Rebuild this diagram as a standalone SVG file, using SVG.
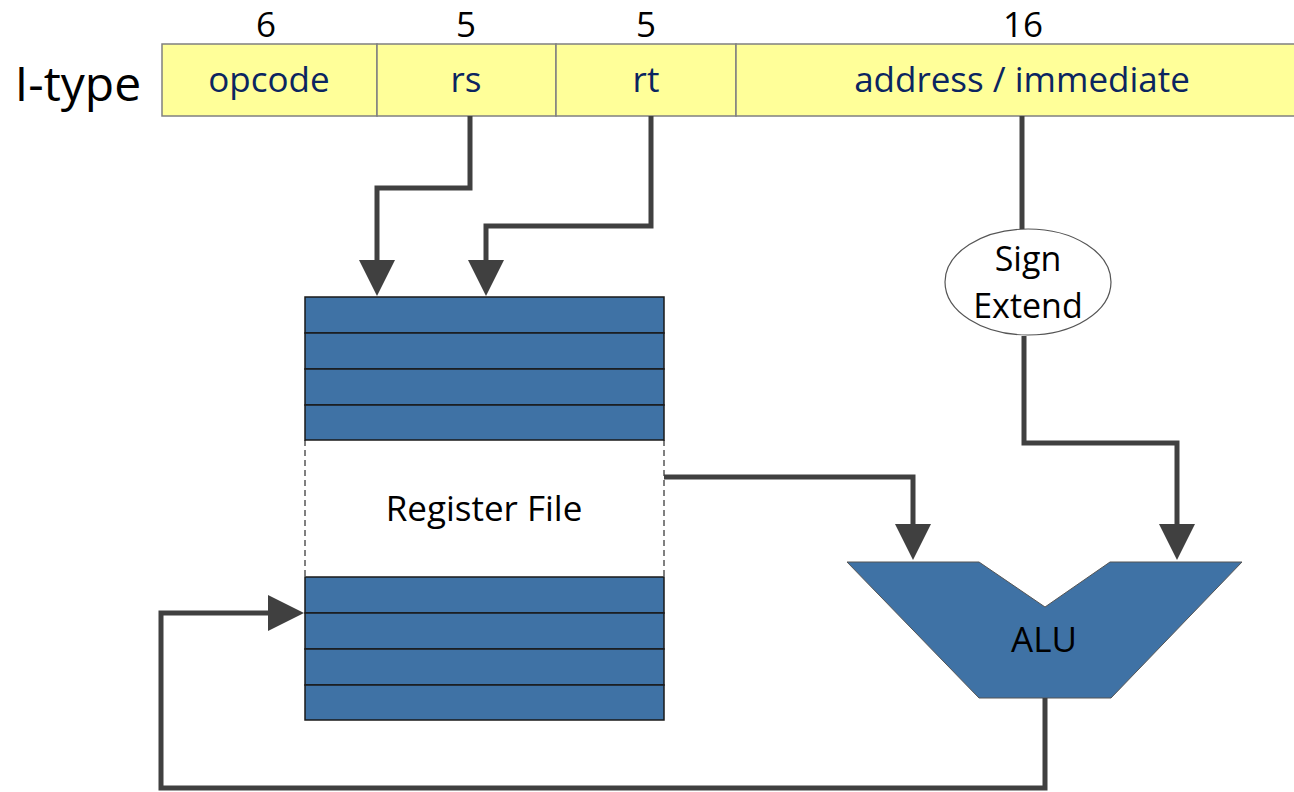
<svg xmlns="http://www.w3.org/2000/svg" width="1294" height="792" viewBox="0 0 1294 792">
<defs>
<style>
.lbl{font-family:"Open Sans","Liberation Sans",sans-serif;fill:#000;text-anchor:middle}
.fld{font-family:"Open Sans","Liberation Sans",sans-serif;fill:#0b2560;text-anchor:middle;font-size:35px}
.num{font-family:"Open Sans","Liberation Sans",sans-serif;fill:#000;text-anchor:middle;font-size:35px}
.cell{fill:#ffff99;stroke:#808080;stroke-width:1.5}
.reg{fill:#3f72a5;stroke:#1a1a1a;stroke-width:1.5}
.wire{fill:none;stroke:#404040;stroke-width:5}
</style>
<marker id="arr" markerUnits="userSpaceOnUse" markerWidth="36" markerHeight="36" refX="26" refY="18" orient="auto">
<path d="M0,0 L36,18 L0,36 Z" fill="#404040"/>
</marker>
</defs>
<rect width="1294" height="792" fill="#fff"/>

<g id="instruction">
<text class="lbl" x="78" y="101" font-size="48">I-type</text>
<rect class="cell" x="162" y="44" width="215" height="72"/>
<rect class="cell" x="377" y="44" width="179" height="72"/>
<rect class="cell" x="556" y="44" width="180" height="72"/>
<rect class="cell" x="736" y="44" width="570" height="72"/>
<text class="num" x="266" y="37">6</text>
<text class="num" x="466" y="37">5</text>
<text class="num" x="646" y="37">5</text>
<text class="num" x="1023" y="37">16</text>
<text class="fld" x="269" y="92">opcode</text>
<text class="fld" x="466" y="92">rs</text>
<text class="fld" x="646" y="92">rt</text>
<text class="fld" x="1022" y="92">address / immediate</text>
</g>

<g id="register-file">
<rect class="reg" x="305" y="297" width="359" height="36"/>
<rect class="reg" x="305" y="333" width="359" height="36"/>
<rect class="reg" x="305" y="369" width="359" height="36"/>
<rect class="reg" x="305" y="405" width="359" height="35"/>
<line x1="305" y1="440" x2="305" y2="577" stroke="#000" stroke-width="1" stroke-dasharray="6,4"/>
<line x1="664" y1="440" x2="664" y2="577" stroke="#000" stroke-width="1" stroke-dasharray="6,4"/>
<text class="lbl" x="484" y="521" font-size="35">Register File</text>
<rect class="reg" x="305" y="577" width="359" height="36"/>
<rect class="reg" x="305" y="613" width="359" height="36"/>
<rect class="reg" x="305" y="649" width="359" height="36"/>
<rect class="reg" x="305" y="685" width="359" height="35"/>
</g>

<g id="sign-extend">
<ellipse cx="1028" cy="282" rx="83" ry="53" fill="#fff" stroke="#555" stroke-width="1.2"/>
<text class="lbl" x="1028" y="271" font-size="34">Sign</text>
<text class="lbl" x="1028" y="318" font-size="34">Extend</text>
</g>

<g id="alu">
<polygon points="847,562 979,562 1045,607 1110,562 1242,562 1111,698 979,698" fill="#3f72a5" stroke="#555" stroke-width="1"/>
<text class="lbl" x="1044" y="652" font-size="35">ALU</text>
</g>

<g id="connectors">
<path class="wire" d="M470,116 V188 H377 V286" marker-end="url(#arr)"/>
<path class="wire" d="M651,116 V226 H486 V286" marker-end="url(#arr)"/>
<path class="wire" d="M1022,116 V229"/>
<path class="wire" d="M1024,336 V443 H1177 V550" marker-end="url(#arr)"/>
<path class="wire" d="M664,477 H913 V550" marker-end="url(#arr)"/>
<path class="wire" d="M1045,698 V788 H161 V613 H294" marker-end="url(#arr)"/>
</g>
</svg>
